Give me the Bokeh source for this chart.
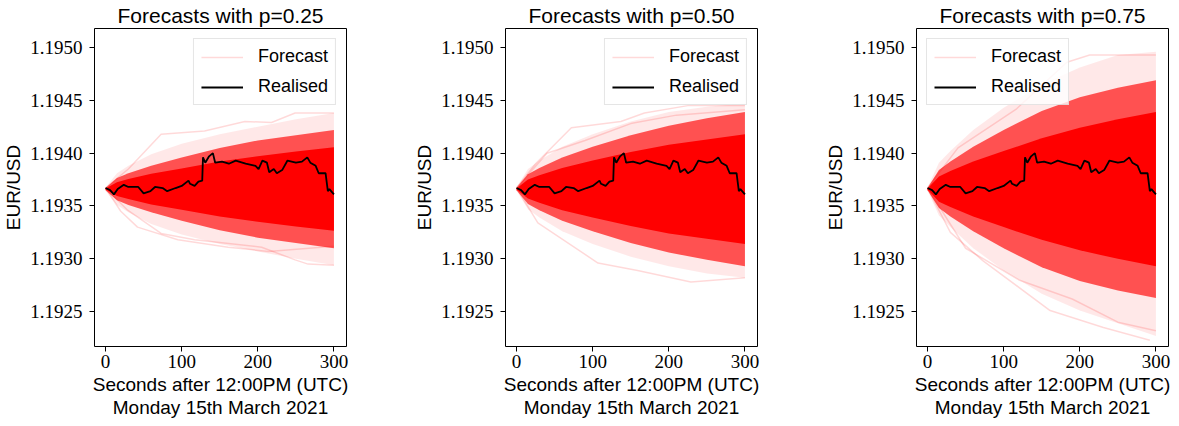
from bokeh.plotting import figure
from bokeh.layouts import row
from bokeh.models import FixedTicker, PrintfTickFormatter, Legend, LegendItem, Range1d
from bokeh.embed import file_html
from bokeh.resources import INLINE

# ---------------- data ----------------
probs = ["0.25", "0.50", "0.75"]

# realised EUR/USD path
real_t = [0, 6, 11, 16, 24, 30, 43, 50, 59, 65, 75, 81, 92, 100, 109, 111, 117, 122,
          127, 128, 131, 136, 141, 144, 153, 162, 171, 184, 197, 201, 206, 212, 215,
          221, 225, 232, 239, 250, 258, 265, 269, 276, 280, 289, 292, 294, 300]
real_v = [1.19367, 1.19365, 1.19361, 1.19366, 1.19370, 1.19368, 1.19368, 1.19362,
          1.19364, 1.19368, 1.19367, 1.19364, 1.19367, 1.19369, 1.19374, 1.19371,
          1.19369, 1.19373, 1.19374, 1.19396, 1.19391, 1.19397, 1.19400, 1.19391,
          1.19392, 1.19390, 1.19393, 1.19390, 1.19388, 1.19385, 1.19393, 1.19391,
          1.19382, 1.19385, 1.19381, 1.19384, 1.19393, 1.19391, 1.19392, 1.19396,
          1.19391, 1.19388, 1.19381, 1.19381, 1.19364, 1.19366, 1.19361]

# forecast fan envelopes (seconds, EUR/USD), one set per panel
band_t = [0, 15, 30, 60, 100, 150, 200, 250, 300]

core_hi_25 = [1.193665, 1.193725, 1.193755, 1.193805, 1.193855, 1.193920, 1.193970, 1.194015, 1.194055]
core_lo_25 = [1.193655, 1.193595, 1.193565, 1.193515, 1.193465, 1.193400, 1.193350, 1.193305, 1.193265]
mid_hi_25 = [1.193670, 1.193765, 1.193810, 1.193880, 1.193960, 1.194050, 1.194120, 1.194170, 1.194220]
mid_lo_25 = [1.193650, 1.193555, 1.193510, 1.193440, 1.193360, 1.193270, 1.193200, 1.193150, 1.193100]
out_hi_25 = [1.193675, 1.193810, 1.193880, 1.193990, 1.194090, 1.194180, 1.194250, 1.194320, 1.194380]
out_lo_25 = [1.193645, 1.193510, 1.193440, 1.193330, 1.193230, 1.193140, 1.193070, 1.193000, 1.192940]

core_hi_50 = [1.193665, 1.193750, 1.193790, 1.193860, 1.193930, 1.194010, 1.194080, 1.194130, 1.194180]
core_lo_50 = [1.193655, 1.193570, 1.193530, 1.193460, 1.193390, 1.193310, 1.193240, 1.193190, 1.193140]
mid_hi_50 = [1.193670, 1.193800, 1.193860, 1.193960, 1.194060, 1.194170, 1.194260, 1.194330, 1.194390]
mid_lo_50 = [1.193650, 1.193520, 1.193460, 1.193360, 1.193260, 1.193150, 1.193060, 1.192990, 1.192930]
out_hi_50 = [1.193675, 1.193850, 1.193930, 1.194060, 1.194180, 1.194300, 1.194390, 1.194440, 1.194470]
out_lo_50 = [1.193645, 1.193470, 1.193390, 1.193260, 1.193140, 1.193020, 1.192930, 1.192860, 1.192820]

core_hi_75 = [1.193665, 1.193780, 1.193830, 1.193920, 1.194020, 1.194140, 1.194240, 1.194320, 1.194390]
core_lo_75 = [1.193655, 1.193540, 1.193490, 1.193400, 1.193300, 1.193180, 1.193080, 1.193000, 1.192930]
mid_hi_75 = [1.193670, 1.193840, 1.193920, 1.194060, 1.194220, 1.194400, 1.194530, 1.194620, 1.194690]
mid_lo_75 = [1.193650, 1.193480, 1.193400, 1.193260, 1.193100, 1.192920, 1.192790, 1.192700, 1.192630]
out_hi_75 = [1.193675, 1.193910, 1.194020, 1.194220, 1.194430, 1.194650, 1.194810, 1.194930, 1.194960]
out_lo_75 = [1.193645, 1.193410, 1.193300, 1.193100, 1.192890, 1.192670, 1.192510, 1.192390, 1.192270]

# a few stray forecast paths visible at the edges of each fan
stray_25 = [
    ([0, 30, 73, 130, 183, 218, 249, 300], [1.19367, 1.19385, 1.19418, 1.19421, 1.19430, 1.19429, 1.19438, 1.19438]),
    ([0, 29, 73, 117, 205, 249, 266, 300], [1.19367, 1.19346, 1.19324, 1.19318, 1.19311, 1.19299, 1.19295, 1.19294]),
    ([0, 20, 42, 95, 161, 214, 300], [1.19367, 1.19345, 1.19330, 1.19318, 1.19311, 1.19307, 1.19312]),
]
stray_50 = [
    ([0, 25, 72, 137, 168, 225, 300], [1.19367, 1.19390, 1.19424, 1.19430, 1.19438, 1.19445, 1.19445]),
    ([0, 28, 107, 159, 229, 300], [1.19367, 1.19334, 1.19296, 1.19289, 1.19278, 1.19282]),
    ([0, 40, 90, 150, 210, 300], [1.19367, 1.19400, 1.19412, 1.19428, 1.19436, 1.19441]),
]
stray_75 = [
    ([0, 40, 117, 183, 213, 300], [1.19367, 1.19405, 1.19442, 1.19486, 1.19493, 1.19493]),
    ([0, 30, 73, 161, 231, 292], [1.19367, 1.19325, 1.19298, 1.19251, 1.19235, 1.19223]),
    ([0, 50, 120, 190, 250, 300], [1.19367, 1.19310, 1.19280, 1.19262, 1.19240, 1.19232]),
]

bands = {
    "0.25": (core_hi_25, core_lo_25, mid_hi_25, mid_lo_25, out_hi_25, out_lo_25, stray_25),
    "0.50": (core_hi_50, core_lo_50, mid_hi_50, mid_lo_50, out_hi_50, out_lo_50, stray_50),
    "0.75": (core_hi_75, core_lo_75, mid_hi_75, mid_lo_75, out_hi_75, out_lo_75, stray_75),
}

y_ticks = [1.1925, 1.1930, 1.1935, 1.1940, 1.1945, 1.1950]
x_ticks = [0, 100, 200, 300]

SANS = "Liberation Sans"
SERIF = "Liberation Serif"


def make_panel(p_lab, width, border_right, legend_loc):
    p = figure(width=width, height=420, output_backend="svg", toolbar_location=None,
               x_range=Range1d(-14.5, 316.5), y_range=Range1d(1.19217, 1.19518),
               min_border_left=94, min_border_right=border_right,
               min_border_top=20, min_border_bottom=60)
    p.title.text = "Forecasts with p=" + p_lab
    p.title.text_font = SANS
    p.title.text_font_size = "21px"
    p.title.text_font_style = "normal"
    p.title.text_color = "black"
    p.title.align = "center"
    p.title.standoff = 3
    p.title.offset = 0

    ch, cl, mh, ml, oh, ol, strays = bands[p_lab]
    p.varea(x=band_t, y1=ol, y2=oh, fill_color="#ff0000", fill_alpha=0.09)
    p.varea(x=band_t, y1=ml, y2=mh, fill_color="#ff0000", fill_alpha=0.65)
    p.varea(x=band_t, y1=cl, y2=ch, fill_color="#ff0000", fill_alpha=1.0)

    stray_lines = []
    for sx, sy in strays:
        stray_lines.append(p.line(x=sx, y=sy, line_color="#ff0000", line_alpha=0.15,
                                  line_width=1.5))
    r_line = p.line(x=real_t, y=real_v, line_color="black", line_width=1.8)

    legend = Legend(items=[LegendItem(label="Forecast", renderers=[stray_lines[0]]),
                           LegendItem(label="Realised", renderers=[r_line])],
                    location=legend_loc)
    legend.label_text_font = SANS
    legend.label_text_font_size = "18px"
    legend.label_text_color = "black"
    legend.glyph_width = 42
    legend.glyph_height = 20
    legend.label_standoff = 15
    legend.padding = 7
    legend.spacing = 9
    legend.margin = 10
    legend.border_line_color = "#cccccc"
    legend.border_line_width = 1
    legend.background_fill_alpha = 0.8
    p.add_layout(legend)

    p.xaxis.ticker = FixedTicker(ticks=x_ticks)
    p.yaxis.ticker = FixedTicker(ticks=y_ticks)
    p.yaxis.formatter = PrintfTickFormatter(format="%.4f")
    p.xaxis.axis_label = "Seconds after 12:00PM (UTC)\nMonday 15th March 2021"
    p.yaxis.axis_label = "EUR/USD"
    for ax in (p.xaxis, p.yaxis):
        ax.axis_label_text_font = SANS
        ax.axis_label_text_font_size = "19px"
        ax.axis_label_text_font_style = "normal"
        ax.axis_label_text_color = "black"
        ax.major_label_text_font = SERIF
        ax.major_label_text_font_size = "19px"
        ax.major_label_text_color = "black"
        ax.major_tick_out = 5
        ax.major_tick_in = 0
        ax.minor_tick_out = 0
        ax.minor_tick_in = 0
        ax.axis_line_color = None
        ax.major_tick_line_color = "black"
        ax.axis_label_standoff = 3
    p.xaxis.major_label_standoff = 3
    p.yaxis.major_label_standoff = 7
    p.xaxis.axis_label_text_line_height = 1.1
    p.xgrid.visible = False
    p.ygrid.visible = False
    p.outline_line_color = "black"
    p.outline_line_width = 1
    p.background_fill_color = "white"
    return p


p1 = make_panel("0.25", 411, 65, "top_right")
p2 = make_panel("0.50", 411, 65, "top_right")
p3 = make_panel("0.75", 355, 9, "top_left")

layout = row(p1, p2, p3)
open("out.html", "w").write(file_html(layout, INLINE))
